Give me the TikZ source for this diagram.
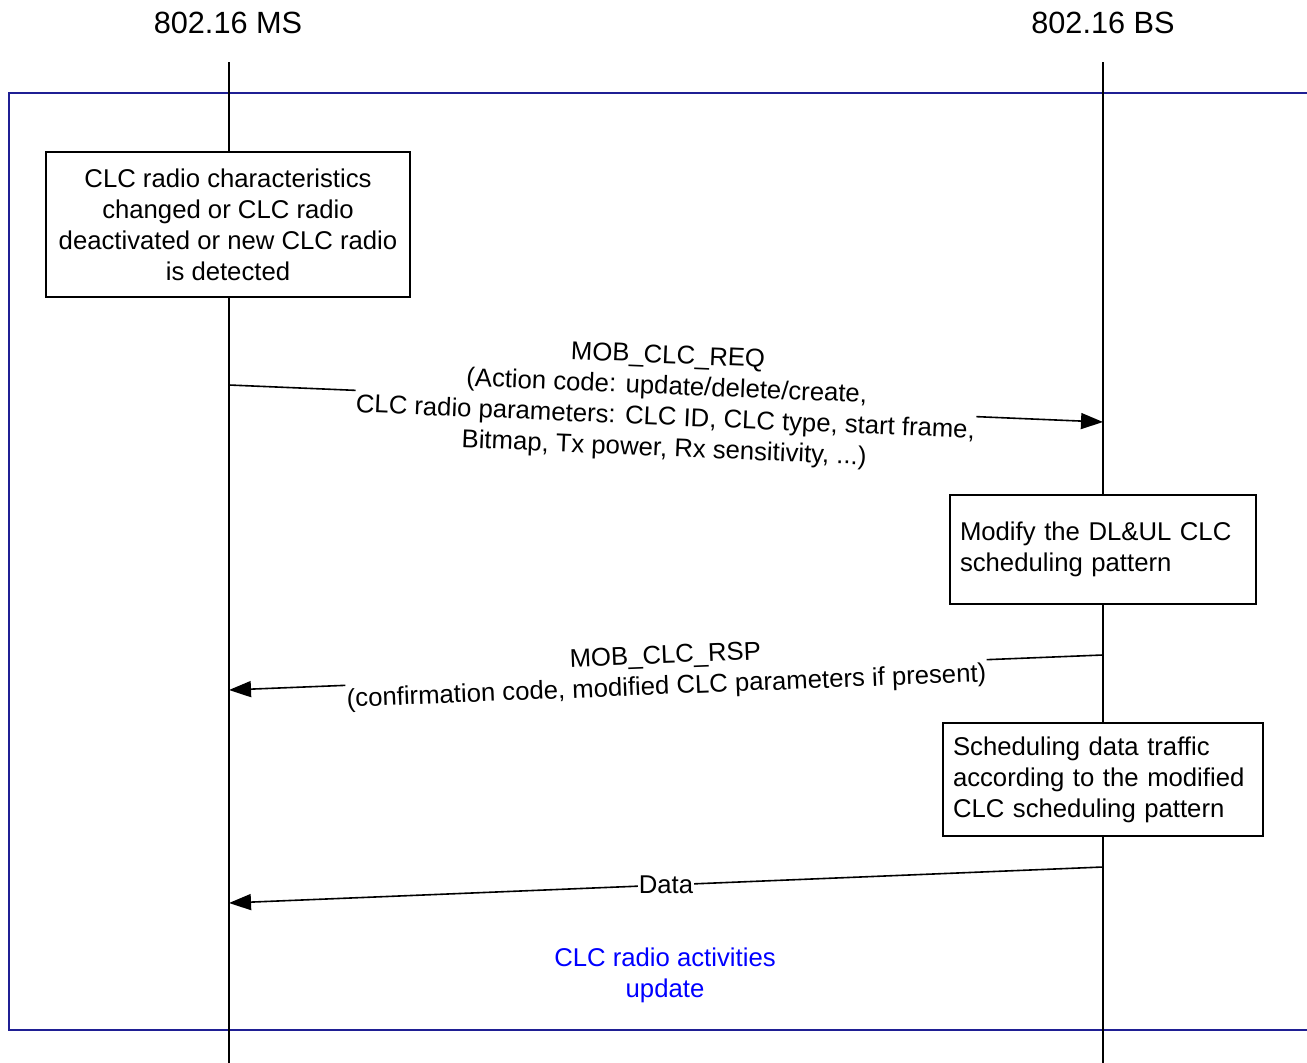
\documentclass[tikz,border=0pt]{standalone}
\usepackage{fontspec}
\setmainfont{Liberation Sans}
\usetikzlibrary{arrows.meta}
\definecolor{framecol}{rgb}{0.12,0.12,0.58}
\definecolor{notecol}{rgb}{0,0,1}
\tikzset{
  x=1pt, y=-1pt,
  body/.style={font=\fontsize{25.7}{31}\selectfont},
  title/.style={font=\fontsize{30.7}{36}\selectfont},
  lifeline/.style={line width=1.6pt, black},
  actbox/.style={draw, line width=1.6pt, fill=white, body},
  msg/.style={line width=1.6pt, -{Triangle[length=22pt,width=16pt]}},
  msglabel/.style={fill=white, inner sep=1pt, body, align=center},
}
\begin{document}
\begin{tikzpicture}
\useasboundingbox (0,0) rectangle (1307,1063);
% frame
\draw[framecol, line width=1.6pt] (1307,93) -- (9,93) -- (9,1030) -- (1307,1030);
% titles
\node[title] (ms) at (228,23) {802.16 MS};
\node[title] (bs) at (1103,23) {802.16 BS};
% lifelines
\coordinate (mstop) at (229,62);
\coordinate (msbot) at (229,1063);
\coordinate (bstop) at (1103,62);
\coordinate (bsbot) at (1103,1063);
\draw[lifeline] (mstop) -- (msbot);
\draw[lifeline] (bstop) -- (bsbot);
% boxes
\node[actbox, minimum width=364pt, minimum height=145pt, align=center, inner sep=0pt] (b1) at (228,224.5)
  {CLC radio characteristics\\changed or CLC radio\\deactivated or new CLC radio\\is detected};
\node[actbox, text width=286pt, minimum height=109pt, align=left, inner xsep=10pt, inner ysep=0pt] (b2) at (1103,549.5)
  {Modify the DL\&UL CLC\\scheduling pattern};
\node[actbox, text width=300pt, minimum height=113pt, align=left, inner xsep=10pt, inner ysep=0pt] (b3) at (1103,779.5)
  {Scheduling data traffic\\according to the modified\\CLC scheduling pattern};
% message endpoints
\coordinate (reqs) at (229,385);
\coordinate (reqe) at (1103,422);
\coordinate (rsps) at (1103,655);
\coordinate (rspe) at (229,690);
\coordinate (dats) at (1103,867);
\coordinate (date) at (229,903);
% messages
\draw[msg] (reqs) -- node[msglabel, sloped, midway] (reqlab)
  {MOB\_CLC\_REQ\\(Action code: update/delete/create,\\CLC radio parameters: CLC ID, CLC type, start frame,\\Bitmap, Tx power, Rx sensitivity, ...)} (reqe);
\draw[msg] (rsps) -- node[msglabel, sloped, midway] (rsplab)
  {MOB\_CLC\_RSP\\(confirmation code, modified CLC parameters if present)} (rspe);
\draw[msg] (dats) -- node[msglabel, midway, inner sep=0.5pt] (datlab) {Data} (date);
% note
\node[body, notecol, align=center] (note) at (665,975) {CLC radio activities\\update};
\end{tikzpicture}
\end{document}
